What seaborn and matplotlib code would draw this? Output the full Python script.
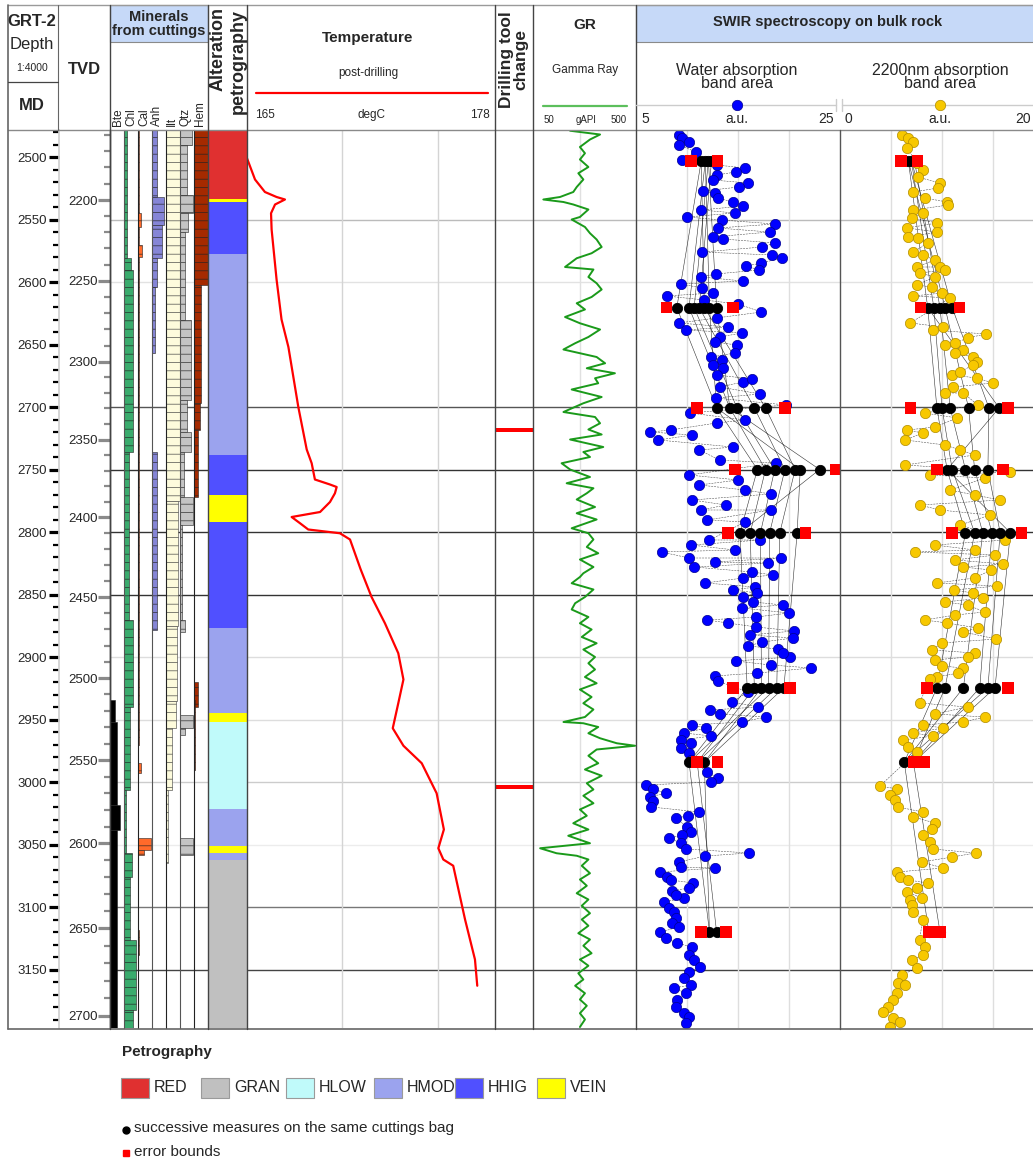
import numpy as np
import pandas as pd
import matplotlib
matplotlib.use("Agg")
import matplotlib.pyplot as plt
import seaborn as sns
from matplotlib.patches import Rectangle
from matplotlib.lines import Line2D
from matplotlib.ticker import MultipleLocator

# ---------------- DATA ----------------
MD_TOP, MD_BOT = 2478.4, 3196.8
MD_MAJOR = list(range(2500, 3151, 50))
TVD_TICKS = list(range(2200, 2701, 50))
# calibration MD <-> TVD read from the two depth tracks
TVD_REF = [1788, 2157, 2200, 2250, 2300, 2350, 2400, 2450, 2500, 2550, 2600, 2650, 2700, 2707, 2925]
MD_REF = [2000, 2478.4, 2534.4, 2599.0, 2663.8, 2726.0, 2788.0, 2852.0, 2916.8, 2982.4, 3049.0, 3117.0, 3187.2, 3196.8, 3500]

PETRO_TOP = [2478.4, 2533.6, 2535.8, 2577.6, 2738.4, 2770.4, 2791.7, 2877.0, 2944.5, 2951.6, 3021.3, 3050.8, 3056.4, 3062.0]
PETRO_CLASS = ["RED", "VEIN", "HHIG", "HMOD", "HHIG", "VEIN", "HHIG", "HMOD", "VEIN", "HLOW", "HMOD", "VEIN", "HMOD", "GRAN"]
PETRO_LEGEND = ["RED", "GRAN", "HLOW", "HMOD", "HHIG", "VEIN"]

MINERAL_NAMES = ["Bte", "Chl", "Cal", "Anh", "Ilt", "Qtz", "Hem"]
# (top MD, bottom MD, relative abundance 0-1)
BTE = [(2934, 2952, 0.35), (2952, 3018, 0.5), (3018, 3038, 0.7), (3038, 3197, 0.5)]
CHL = [(2478, 2581, 0.2), (2581, 2590, 0.5), (2590, 2736, 0.65), (2736, 2870, 0.35), (2870, 2940, 0.65),
       (2940, 3006, 0.45), (3006, 3057, 0.15), (3057, 3076, 0.55), (3076, 3126, 0.45), (3126, 3182, 0.85),
       (3182, 3197, 0.65)]
CAL = [(2478, 2545, 0.08), (2545, 2556, 0.2), (2556, 2570, 0.08), (2570, 2580, 0.25), (2580, 2958, 0.08),
       (2958, 2970, 0.08), (2985, 2993, 0.2), (3044.8, 3054.4, 0.9), (3054.4, 3058.4, 0.45), (3118, 3138, 0.08)]
ANH = [(2478, 2532, 0.35), (2532, 2554, 0.85), (2554, 2581, 0.7), (2581, 2604, 0.35), (2604, 2657, 0.2),
       (2736, 2878, 0.35)]
ILT = [(2478, 2775, 1.0), (2775, 2875, 0.85), (2875, 2935, 0.8), (2935, 2957, 0.7), (2957, 3006, 0.45),
       (3006, 3065, 0.15)]
QTZ = [(2478, 2490, 0.85), (2490, 2530, 0.5), (2530, 2545, 0.9), (2545, 2560, 0.6), (2560, 2630, 0.35),
       (2630, 2694, 0.75), (2694, 2720, 0.5), (2720, 2736, 0.75), (2736, 2772, 0.3), (2772, 2794, 0.9),
       (2794, 2870, 0.15), (2870, 2880, 0.35), (2946, 2957, 0.9), (2957, 2962, 0.35), (3045, 3058, 0.9)]
HEM = [(2478, 2602, 1.0), (2602, 2697, 0.5), (2697, 2718, 0.4), (2718, 2772, 0.25), (2920, 2940, 0.25),
       (2934, 2990, 0.05)]

# post-drilling temperature (MD, degC)
TEMP = [(2490, 164.7), (2501, 165.0), (2518, 165.42), (2528, 165.94), (2532, 166.55), (2534, 166.99),
        (2538, 166.47), (2545, 166.26), (2558, 166.29), (2598, 166.55), (2630, 166.81), (2652, 167.17),
        (2700, 167.69), (2734, 168.13), (2745, 168.39), (2758, 168.56), (2762, 169.35), (2764, 169.70),
        (2769, 169.61), (2776, 169.35), (2784, 168.83), (2788, 167.34), (2793, 167.78), (2798, 168.21),
        (2801, 169.87), (2806, 170.40), (2830, 170.96), (2852, 171.53), (2873, 172.23), (2897, 172.93),
        (2918, 173.20), (2937, 172.93), (2957, 172.64), (2971, 173.20), (2985, 174.16), (3009, 174.94),
        (3038, 175.32), (3053, 175.03), (3062, 175.29), (3067, 175.81), (3110, 176.43), (3142, 176.95),
        (3163, 177.07)]

DRILL_CHANGE_MD = [2718.4, 3003.8]

# gamma ray (MD, gAPI)
GR = [(2479, 212), (2482, 343), (2486, 299), (2492, 255), (2497, 277), (2502, 255), (2508, 292), (2513, 248),
      (2518, 270), (2524, 241), (2528, 226), (2532, 168), (2534, 95), (2536, 183), (2538, 226), (2542, 292),
      (2548, 255), (2550, 219), (2556, 277), (2561, 299), (2566, 328), (2572, 350), (2577, 306), (2581, 241),
      (2588, 190), (2590, 314), (2596, 292), (2601, 328), (2606, 350), (2612, 306), (2617, 241), (2622, 277),
      (2628, 190), (2633, 255), (2638, 343), (2644, 292), (2649, 234), (2654, 183), (2660, 328), (2665, 365),
      (2669, 285), (2673, 408), (2677, 321), (2681, 335), (2686, 219), (2692, 350), (2697, 270), (2704, 183),
      (2708, 321), (2713, 343), (2718, 292), (2722, 350), (2726, 212), (2732, 357), (2736, 270), (2740, 299),
      (2745, 175), (2750, 212), (2756, 299), (2761, 197), (2765, 314), (2769, 285), (2774, 241), (2780, 321),
      (2785, 241), (2790, 328), (2797, 219), (2801, 292), (2806, 314), (2812, 285), (2817, 335), (2822, 255),
      (2828, 314), (2833, 270), (2836, 255), (2841, 219), (2846, 314), (2852, 277), (2857, 234), (2862, 219),
      (2868, 292), (2873, 255), (2878, 306), (2884, 263), (2889, 328), (2894, 270), (2900, 321), (2905, 292),
      (2910, 321), (2916, 277), (2921, 328), (2926, 255), (2932, 306), (2937, 270), (2942, 314), (2948, 277),
      (2952, 183), (2953, 270), (2956, 335), (2961, 292), (2965, 343), (2969, 416), (2971, 496), (2974, 328),
      (2979, 292), (2985, 335), (2990, 277), (2995, 350), (3001, 285), (3006, 314), (3011, 270), (3017, 314),
      (3022, 255), (3027, 285), (3033, 226), (3038, 292), (3043, 204), (3049, 299), (3053, 81), (3057, 153),
      (3059, 241), (3062, 292), (3067, 263), (3073, 299), (3078, 255), (3083, 285), (3089, 241), (3094, 292),
      (3099, 263), (3105, 299), (3110, 263), (3115, 292), (3121, 248), (3126, 299), (3131, 270), (3137, 306),
      (3142, 255), (3147, 292), (3153, 248), (3158, 270), (3163, 234), (3169, 277), (3174, 255), (3179, 285),
      (3185, 255), (3190, 277), (3196, 255)]

# SWIR water absorption band area (MD, a.u.)
WATER = [(2482.4, 9.2), (2484.8, 9.5), (2490.4, 9.2), (2488.0, 10.2), (2496.0, 10.9), (2502.4, 9.5),
         (2506.4, 12.9), (2508.8, 15.7), (2512.0, 14.8), (2514.4, 12.9), (2518.4, 12.5), (2520.8, 16.0),
         (2524.0, 15.1), (2527.2, 11.6), (2528.8, 12.7), (2532.8, 13.0), (2536.0, 14.5), (2539.2, 15.5),
         (2542.4, 11.4), (2544.8, 14.7), (2548.0, 10.0), (2550.4, 13.4), (2556.8, 13.0), (2553.6, 18.6),
         (2560.0, 18.1), (2564.0, 12.5), (2565.6, 13.5), (2568.8, 18.6), (2572.0, 17.4), (2576.0, 11.5),
         (2578.4, 18.3), (2580.8, 19.3), (2584.8, 17.3), (2587.2, 15.8), (2590.4, 17.1), (2593.6, 12.8),
         (2596.0, 11.4), (2599.2, 15.5), (2601.6, 9.4), (2604.8, 11.5), (2608.8, 12.5), (2611.2, 8.0),
         (2614.4, 11.7), (2617.6, 15.0), (2624.0, 17.3), (2628.8, 12.9), (2632.8, 9.2), (2638.4, 9.9),
         (2636.0, 14.0), (2640.8, 15.4), (2644.0, 13.2), (2648.0, 12.7), (2650.4, 14.9), (2656.8, 14.7),
         (2660.0, 12.4), (2662.4, 13.4), (2666.4, 12.5), (2668.8, 13.5), (2674.4, 12.9), (2680.0, 15.5),
         (2677.6, 16.4), (2684.0, 13.2), (2689.6, 17.2), (2692.8, 12.8), (2704.8, 10.3), (2698.4, 19.7),
         (2712.8, 12.9), (2718.4, 8.4), (2710.4, 15.7), (2722.4, 10.5), (2720.0, 6.4), (2726.4, 7.2),
         (2734.4, 11.2), (2732.0, 14.5), (2742.4, 13.2), (2744.8, 18.7), (2754.4, 10.2), (2762.4, 11.2),
         (2758.4, 15.0), (2766.4, 15.7), (2769.6, 18.2), (2774.4, 10.5), (2782.4, 11.4), (2790.4, 12.0),
         (2792.0, 15.7), (2782.4, 18.2), (2778.4, 13.8), (2806.4, 17.2), (2810.4, 10.4), (2816.0, 7.5),
         (2820.8, 10.2), (2814.4, 14.7), (2820.8, 19.2), (2806.4, 12.2), (2828.0, 10.7), (2824.0, 12.7),
         (2824.8, 17.9), (2840.8, 11.8), (2832.0, 16.4), (2836.8, 15.5), (2834.4, 18.4), (2844.0, 16.7),
         (2846.4, 14.5), (2848.8, 16.9), (2852.0, 15.5), (2856.0, 16.5), (2858.4, 19.4), (2860.8, 15.4),
         (2864.8, 20.0), (2868.0, 16.8), (2870.4, 12.0), (2872.8, 14.0), (2876.0, 16.8), (2879.2, 20.5),
         (2884.8, 20.4), (2882.4, 16.2), (2888.0, 17.4), (2891.2, 16.0), (2893.6, 18.9), (2900.0, 20.1),
         (2896.8, 19.4), (2903.2, 14.8), (2906.4, 18.2), (2908.8, 22.2), (2912.8, 16.9), (2915.2, 12.7),
         (2919.2, 13.0), (2928.0, 16.0), (2936.0, 14.4), (2940.0, 17.0), (2942.4, 12.3), (2945.6, 13.2),
         (2948.0, 17.7), (2952.0, 15.4), (2954.4, 10.5), (2956.8, 11.9), (2960.8, 9.7), (2963.2, 12.4),
         (2966.4, 9.4), (2968.8, 10.4), (2972.8, 9.4), (2976.8, 10.2), (2982.4, 10.4), (2992.0, 12.0),
         (2996.8, 13.0), (3000.0, 12.4), (3002.4, 6.0), (3005.6, 6.7), (3008.8, 7.9), (3012.0, 6.4),
         (3015.2, 6.7), (3020.0, 6.5), (3024.0, 11.2), (3028.8, 8.9), (3027.2, 10.1), (3036.0, 10.0),
         (3040.0, 10.4), (3044.8, 8.2), (3042.4, 9.5), (3048.8, 9.4), (3053.6, 9.9), (3059.2, 11.8),
         (3056.8, 16.1), (3064.0, 9.2), (3068.0, 9.4), (3068.8, 12.7), (3072.0, 7.4), (3076.0, 8.0),
         (3078.4, 8.4), (3080.8, 10.6), (3084.8, 10.2), (3087.2, 8.5), (3092.8, 9.7), (3090.4, 8.9),
         (3096.0, 7.7), (3100.8, 8.2), (3104.0, 8.7), (3108.8, 8.9), (3112.8, 8.5), (3116.0, 9.2),
         (3120.0, 7.4), (3124.8, 7.9), (3128.8, 9.0), (3132.0, 10.5), (3138.4, 10.2), (3142.4, 10.7),
         (3148.0, 11.3), (3152.0, 10.2), (3156.8, 9.7), (3164.8, 8.7), (3162.4, 10.4), (3168.8, 9.9),
         (3174.4, 9.0), (3180.0, 8.9), (3184.8, 9.7), (3188.0, 10.2), (3192.8, 9.9)]

# SWIR 2200 nm absorption band area (MD, a.u.)
AL2200 = [(2482.4, 6.1), (2484.8, 6.7), (2488.0, 7.2), (2492.8, 6.6), (2504.8, 7.5), (2510.4, 8.1),
          (2516.0, 7.6), (2520.8, 9.8), (2524.8, 9.6), (2528.0, 7.2), (2532.8, 8.3), (2536.0, 10.5),
          (2538.4, 10.6), (2542.4, 7.2), (2544.8, 8.1), (2548.8, 7.1), (2552.8, 9.5), (2556.8, 6.6),
          (2560.0, 9.5), (2564.8, 7.6), (2564.0, 6.7), (2568.8, 8.6), (2576.0, 7.2), (2578.4, 8.1),
          (2582.4, 9.3), (2588.0, 9.8), (2588.0, 7.5), (2592.8, 7.8), (2590.4, 10.3), (2596.0, 9.3),
          (2602.4, 7.5), (2604.0, 9.0), (2608.8, 10.0), (2611.2, 7.2), (2612.8, 10.8), (2632.8, 6.9),
          (2638.4, 9.1), (2636.0, 10.1), (2641.6, 14.3), (2644.8, 12.5), (2650.4, 10.3), (2648.8, 11.3),
          (2654.4, 12.1), (2656.8, 11.3), (2660.0, 13.0), (2664.0, 13.4), (2666.4, 13.0), (2674.4, 11.0),
          (2672.0, 11.8), (2680.8, 15.0), (2676.8, 13.4), (2684.0, 11.1), (2688.8, 10.3), (2688.8, 12.1),
          (2704.8, 8.3), (2698.4, 13.5), (2708.8, 11.5), (2716.0, 9.3), (2718.4, 6.6), (2726.4, 6.4),
          (2720.8, 8.1), (2730.4, 10.3), (2734.4, 11.8), (2738.4, 13.2), (2746.4, 6.4), (2754.4, 8.8),
          (2756.8, 14.2), (2752.0, 16.7), (2766.4, 10.8), (2770.4, 13.2), (2774.4, 15.7), (2778.4, 7.8),
          (2782.4, 9.8), (2786.4, 14.7), (2794.4, 11.8), (2806.4, 16.2), (2810.4, 9.3), (2814.4, 13.2),
          (2818.4, 15.2), (2816.0, 7.4), (2822.4, 11.3), (2828.0, 12.1), (2830.4, 14.8), (2825.6, 16.0),
          (2840.8, 9.5), (2836.8, 13.2), (2843.2, 15.4), (2846.4, 11.2), (2848.8, 13.0), (2856.0, 10.3),
          (2852.8, 14.0), (2858.4, 12.5), (2870.4, 8.3), (2872.8, 10.5), (2866.4, 11.3), (2864.0, 14.2),
          (2876.8, 13.5), (2880.0, 12.1), (2885.6, 15.3), (2888.8, 10.0), (2894.4, 9.0), (2896.8, 13.2),
          (2900.0, 12.5), (2902.4, 9.3), (2907.2, 10.0), (2908.8, 12.1), (2912.8, 11.6), (2916.0, 9.5),
          (2917.6, 8.8), (2936.8, 7.8), (2940.0, 12.5), (2945.6, 9.3), (2948.0, 14.2), (2952.0, 12.1),
          (2954.4, 8.1), (2956.8, 10.1), (2960.8, 7.2), (2963.2, 9.1), (2966.4, 6.2), (2972.0, 6.7),
          (2976.0, 7.5), (3003.2, 3.9), (3005.6, 5.6), (3010.4, 4.9), (3014.4, 5.4), (3020.0, 5.7),
          (3028.0, 7.2), (3024.0, 8.1), (3032.8, 9.3), (3037.6, 9.0), (3042.4, 8.1), (3048.0, 8.8),
          (3053.6, 9.1), (3060.0, 11.0), (3056.8, 13.3), (3068.8, 10.1), (3064.0, 8.0), (3072.0, 5.6),
          (3076.0, 5.9), (3078.4, 6.7), (3080.8, 8.6), (3084.8, 7.5), (3088.0, 6.6), (3094.4, 6.9),
          (3092.8, 8.0), (3098.4, 7.1), (3104.0, 7.2), (3110.4, 8.1), (3126.4, 7.8), (3132.0, 8.3),
          (3138.4, 8.1), (3142.4, 7.1), (3148.8, 7.5), (3154.4, 6.1), (3160.8, 5.7), (3162.4, 6.4),
          (3168.8, 5.6), (3174.4, 5.2), (3180.0, 4.7), (3184.0, 4.2), (3188.8, 5.2), (3192.0, 5.9),
          (3196.0, 4.9)]

# repeated measures on the same cuttings bag and error bounds
REP_MD = [2503.0, 2620.5, 2700.7, 2750.0, 2800.6, 2924.6, 2984.2, 3119.9]
WATER_REP = [[11.4, 11.8, 12.1, 12.4], [9.0, 10.2, 10.7, 11.2, 11.7, 12.2, 12.9], [12.9, 14.2, 14.9, 16.6, 17.7],
             [16.9, 17.7, 18.6, 19.6, 20.6, 21.1, 23.0], [15.2, 16.2, 17.2, 18.1, 19.1, 20.8],
             [15.9, 16.6, 17.3, 18.0, 18.8, 19.5], [10.2, 11.0, 11.7], [12.2, 12.9]]
WATER_ERR_LO = [10.4, 8.0, 11.0, 14.7, 14.0, 14.5, 11.0, 11.4]
WATER_ERR_HI = [13.0, 14.5, 19.6, 24.6, 21.6, 20.1, 13.0, 13.8]
AL_REP = [[6.7, 7.0, 7.3], [8.6, 9.2, 9.8, 10.3, 11.0], [9.5, 10.0, 10.8, 12.6, 14.6, 15.6],
          [10.5, 11.0, 12.3, 13.2, 14.5], [12.3, 13.2, 14.0, 14.9, 15.7, 16.7],
          [9.5, 10.3, 12.1, 13.7, 14.5, 15.2], [6.3, 7.2], [8.7, 9.8]]
AL_ERR_LO = [6.0, 7.9, 6.9, 9.5, 11.0, 8.5, 7.2, 8.7]
AL_ERR_HI = [7.6, 11.7, 16.5, 16.0, 17.8, 16.5, 8.3, 9.8]

GRID_MD = [2550, 2600, 2700, 2750, 2800, 2850, 2900, 2950, 3000, 3050, 3100, 3150]

# ---------------- STYLE ----------------
sns.set_theme(style="white")
plt.rcParams["font.family"] = ["Liberation Sans", "DejaVu Sans"]
plt.rcParams["hatch.linewidth"] = 0.45

PETRO_COLORS = {"RED": "#e03030", "GRAN": "#c0c0c0", "HLOW": "#c0fafa", "HMOD": "#9ba3ee",
                "HHIG": "#5050ff", "VEIN": "#ffff00"}
MIN_COLORS = {"Bte": "#000000", "Chl": "#3aab6d", "Cal": "#ff6a2a", "Anh": "#8585d6",
              "Ilt": "#fdfbdc", "Qtz": "#c4c4c4", "Hem": "#a52a00"}
GRID_COLORS = ["#bbbbbb", "#e2e2e2", "#555555", "#333333", "#333333", "#333333", "#dddddd",
               "#dddddd", "#cccccc", "#ececec", "#777777", "#444444"]

W, H = 1033, 1162
Y_TOP, Y_BOT = 130, 1028
fig = plt.figure(figsize=(W / 100, H / 100), dpi=100)
fig.patch.set_facecolor("white")


def fx(x):
    return x / W


def fy(y):
    return 1 - y / H


def col_axes(x0, x1, y0=Y_TOP, y1=Y_BOT):
    ax = fig.add_axes([fx(x0), fy(y1), (x1 - x0) / W, (y1 - y0) / H])
    ax.set_ylim(MD_BOT, MD_TOP)
    ax.set_facecolor("none")
    ax.set_xticks([])
    ax.set_yticks([])
    ax.grid(False)
    for s in ax.spines.values():
        s.set_visible(False)
    return ax


def fline(xs, ys, color="#555555", lw=1.0, **kw):
    fig.add_artist(Line2D([fx(v) for v in xs], [fy(v) for v in ys], transform=fig.transFigure,
                          color=color, lw=lw, **kw))


def ftext(x, y, s, **kw):
    kw.setdefault("ha", "center")
    kw.setdefault("va", "center")
    fig.text(fx(x), fy(y), s, **kw)


# background horizontal depth grid
ax_bg = col_axes(110, 1045)
for md, c in zip(GRID_MD, GRID_COLORS):
    ax_bg.axhline(md, color=c, lw=1.0, zorder=0)

# MD depth track
ax_md = col_axes(59, 110)
ax_md.spines["left"].set_visible(True)
ax_md.spines["left"].set_color("#d0d0d0")
ax_md.set_yticks(MD_MAJOR)
ax_md.yaxis.set_minor_locator(MultipleLocator(10))
ax_md.tick_params(axis="y", which="major", left=True, labelleft=True, direction="out", length=7.5,
                  width=2.3, color="black", labelsize=9.5, pad=1)
ax_md.tick_params(axis="y", which="minor", left=True, direction="out", length=4.3, width=1.6, color="black")
ax_md.set_ylim(MD_BOT, MD_TOP)

# TVD track (secondary axis on the minerals frame)
ax_min = col_axes(110, 208)


def md2tvd(m):
    return np.interp(m, MD_REF, TVD_REF)


def tvd2md(t):
    return np.interp(t, TVD_REF, MD_REF)


sec = ax_min.secondary_yaxis("left", functions=(md2tvd, tvd2md))
sec.set_yticks(TVD_TICKS)
sec.yaxis.set_minor_locator(MultipleLocator(10))
sec.tick_params(which="major", left=True, labelleft=True, direction="out", length=8.6, width=2.3,
                color="#8a8a8a", labelsize=9.5, pad=0)
sec.tick_params(which="minor", left=True, direction="out", length=4.3, width=1.6, color="#8a8a8a")
sec.spines["left"].set_color("#444444")
sec.spines["left"].set_linewidth(1.0)

# minerals from cuttings
MINERALS = [BTE, CHL, CAL, ANH, ILT, QTZ, HEM]
for i, (name, data) in enumerate(zip(MINERAL_NAMES, MINERALS)):
    x0 = 110 + 14 * i
    ax = col_axes(x0, x0 + 14)
    ax.set_xlim(0, 1)
    tops = [d[0] for d in data]
    heights = [d[1] - d[0] for d in data]
    vals = [d[2] for d in data]
    edge = "#222222" if name != "Ilt" else "#3a3a3a"
    ax.barh(tops, vals, height=heights, align="edge", color=MIN_COLORS[name], edgecolor=edge,
            linewidth=0.4, hatch="--" if name != "Bte" else None, zorder=2)
    ax.spines["left"].set_visible(True)
    ax.spines["left"].set_color("#555555" if i % 2 else "#222222")
    ax.spines["left"].set_linewidth(0.8)
    ax.set_ylim(MD_BOT, MD_TOP)

# alteration petrography
ax_pet = col_axes(208, 247)
ax_pet.set_xlim(0, 1)
p_bot = PETRO_TOP[1:] + [MD_BOT]
ax_pet.barh(PETRO_TOP, [1] * len(PETRO_TOP), height=[b - t for t, b in zip(PETRO_TOP, p_bot)],
            align="edge", color=[PETRO_COLORS[c] for c in PETRO_CLASS], linewidth=0, zorder=2)
ax_pet.set_ylim(MD_BOT, MD_TOP)

# temperature
ax_t = col_axes(247, 495)
for v in (170, 175):
    ax_t.axvline(v, color="#d4d4d4", lw=1.0, zorder=0)
sns.lineplot(x=[t[1] for t in TEMP], y=[t[0] for t in TEMP], ax=ax_t, orient="y", sort=False,
             estimator=None, color="#ff0000", lw=1.6, legend=False)
ax_t.set_xlim(165, 178)
ax_t.set_ylim(MD_BOT, MD_TOP)
ax_t.set_xlabel("")
ax_t.set_ylabel("")
ax_t.set_xticks([])
ax_t.set_yticks([])

# drilling tool change
ax_d = col_axes(495, 533)
ax_d.set_xlim(0, 1)
ax_d.barh(DRILL_CHANGE_MD, [1] * len(DRILL_CHANGE_MD), height=3.6, align="center", color="#ff0000",
          linewidth=0, zorder=3)
ax_d.set_ylim(MD_BOT, MD_TOP)

# gamma ray
ax_gr = col_axes(533, 636)
ax_gr.axvline(255, color="#e0e0e0", lw=1.0, zorder=0)
sns.lineplot(x=[g[1] for g in GR], y=[g[0] for g in GR], ax=ax_gr, orient="y", sort=False,
             estimator=None, color="#1a9a1a", lw=1.4, legend=False)
ax_gr.set_xlim(50, 500)
ax_gr.set_ylim(MD_BOT, MD_TOP)
ax_gr.set_xlabel("")
ax_gr.set_ylabel("")
ax_gr.set_xticks([])
ax_gr.set_yticks([])


def swir_panel(ax, pts, rep, lo, hi, color, edge, xlim, grid):
    for v in grid:
        ax.axvline(v, color="#dedede", lw=1.0, zorder=0)
    spts = sorted(pts)
    ax.plot([p[1] for p in spts], [p[0] for p in spts], color="black", lw=0.35, ls=(0, (4, 2)),
            alpha=0.75, zorder=1)
    for k in range(len(rep) - 1):
        a, b = rep[k], rep[k + 1]
        for i in range(max(len(a), len(b))):
            ax.plot([a[i % len(a)], b[i % len(b)]], [REP_MD[k], REP_MD[k + 1]], color="black",
                    lw=0.4, alpha=0.8, zorder=1)
    df = pd.DataFrame({"md": [p[0] for p in pts], "v": [p[1] for p in pts]})
    sns.scatterplot(data=df, x="v", y="md", ax=ax, color=color, edgecolor=edge, linewidth=0.5, s=55,
                    zorder=2, legend=False)
    rdf = pd.DataFrame({"md": [m for m, r in zip(REP_MD, rep) for _ in r],
                        "v": [v for r in rep for v in r]})
    sns.scatterplot(data=rdf, x="v", y="md", ax=ax, color="black", edgecolor="black", s=55,
                    zorder=3, legend=False)
    edf = pd.DataFrame({"md": REP_MD + REP_MD, "v": list(lo) + list(hi)})
    sns.scatterplot(data=edf, x="v", y="md", ax=ax, color="#ff0000", marker="s", edgecolor="none",
                    s=70, zorder=4, legend=False)
    ax.set_xlim(*xlim)
    ax.set_ylim(MD_BOT, MD_TOP)
    ax.set_xlabel("")
    ax.set_ylabel("")
    ax.set_xticks([])
    ax.set_yticks([])


ax_w = col_axes(636, 840)
swir_panel(ax_w, WATER, WATER_REP, WATER_ERR_LO, WATER_ERR_HI, "#0000ff", "#000090", (5, 25), (10, 15, 20))
ax_a = col_axes(840, 1044)
swir_panel(ax_a, AL2200, AL_REP, AL_ERR_LO, AL_ERR_HI, "#f7c800", "#b08c00", (0, 20), (5, 10, 15))

# ---------------- FRAME & HEADER ----------------
fig.patches.append(Rectangle((fx(110), fy(42)), 98 / W, 37 / H, transform=fig.transFigure,
                             facecolor="#c6d9f8", edgecolor="#8a8a8a", lw=0.8, zorder=1))
fig.patches.append(Rectangle((fx(636), fy(42)), 400 / W, 37 / H, transform=fig.transFigure,
                             facecolor="#c6d9f8", edgecolor="#8a8a8a", lw=0.8, zorder=1))
fline([8, 1033], [5, 5], color="#9a9a9a", lw=1.0)
fline([8, 1033], [130, 130], color="#8a8a8a", lw=1.0)
fline([8, 1033], [1029, 1029], color="#666666", lw=1.2)
fline([8, 8], [5, 1029], color="#666666", lw=1.2)
fline([57.5, 57.5], [5, 130], color="#666666", lw=0.8)
fline([8, 57.5], [82, 82], color="#444444", lw=0.9)
for x in (110, 208, 247, 495, 533, 636):
    fline([x, x], [5, 1029], color="#444444", lw=1.0)
fline([840, 840], [130, 1029], color="#555555", lw=1.0)

ftext(32, 22, "GRT-2", fontsize=12, fontweight="bold")
ftext(32, 45, "Depth", fontsize=12)
ftext(32, 68, "1:4000", fontsize=7.5)
ftext(32, 106, "MD", fontsize=12, fontweight="bold")
ftext(84, 70, "TVD", fontsize=12, fontweight="bold")
ftext(159, 24, "Minerals\nfrom cuttings", fontsize=10.5, fontweight="bold", linespacing=0.95)
for xpos, name in zip((118, 131, 144, 157, 172, 186, 200), MINERAL_NAMES):
    ftext(xpos, 126, name, fontsize=8.5, rotation=90, va="bottom")
ftext(218, 7, "Alteration", fontsize=13, fontweight="bold", rotation=90, va="top")
ftext(238, 9, "petrography", fontsize=13, fontweight="bold", rotation=90, va="top")
ftext(368, 38, "Temperature", fontsize=11, fontweight="bold")
ftext(368, 73, "post-drilling", fontsize=8.5)
fline([256, 488], [93, 93], color="#ff0000", lw=1.6)
ftext(265, 115, "165", fontsize=8.5)
ftext(371, 115, "degC", fontsize=8.5)
ftext(480, 115, "178", fontsize=8.5)
ftext(514, 60, "Drilling tool\nchange", fontsize=12.5, fontweight="bold", rotation=90, linespacing=0.95)
ftext(585, 25, "GR", fontsize=11, fontweight="bold")
ftext(585, 70, "Gamma Ray", fontsize=8.5)
fline([543, 627], [106, 106], color="#5cbf5c", lw=1.6)
ftext(549, 120, "50", fontsize=7)
ftext(586, 120, "gAPI", fontsize=7)
ftext(619, 120, "500", fontsize=7)
ftext(828, 22, "SWIR spectroscopy on bulk rock", fontsize=10.5, fontweight="bold")
ftext(737, 77, "Water absorption\nband area", fontsize=11.5, linespacing=0.8)
ftext(940, 77, "2200nm absorption\nband area", fontsize=11.5, linespacing=0.8)
fline([636, 836], [105, 105], color="#cccccc", lw=1.0)
fline([836, 836], [99, 111], color="#cccccc", lw=1.0)
fline([842, 1033], [105, 105], color="#cccccc", lw=1.0)
fline([842, 842], [99, 111], color="#cccccc", lw=1.0)
fig.add_artist(Line2D([fx(737)], [fy(105)], transform=fig.transFigure, marker="o", ms=7.5,
                      color="#0000ff", mec="#000090", mew=0.5, ls="none"))
fig.add_artist(Line2D([fx(940)], [fy(105)], transform=fig.transFigure, marker="o", ms=7.5,
                      color="#f7c800", mec="#b08c00", mew=0.5, ls="none"))
ftext(645, 119, "5", fontsize=10)
ftext(737, 119, "a.u.", fontsize=10)
ftext(826, 119, "25", fontsize=10)
ftext(848, 119, "0", fontsize=10)
ftext(940, 119, "a.u.", fontsize=10)
ftext(1031, 119, "20", fontsize=10, ha="right")

# ---------------- LEGEND ----------------
ftext(122, 1052, "Petrography", fontsize=11, fontweight="bold", ha="left")
for xpos, cls in zip((121, 201, 286, 374, 455, 537), PETRO_LEGEND):
    fig.patches.append(Rectangle((fx(xpos), fy(1098)), 28 / W, 20 / H, transform=fig.transFigure,
                                 facecolor=PETRO_COLORS[cls], edgecolor="#9a9a9a", lw=0.8, zorder=2))
    ftext(xpos + 33, 1088, cls, fontsize=11.5, ha="left")
fig.add_artist(Line2D([fx(126)], [fy(1130)], transform=fig.transFigure, marker="o", ms=5,
                      color="black", ls="none"))
ftext(134, 1128, "successive measures on the same cuttings bag", fontsize=11, ha="left")
fig.add_artist(Line2D([fx(126)], [fy(1153)], transform=fig.transFigure, marker="s", ms=5,
                      color="#ff0000", ls="none"))
ftext(134, 1152, "error bounds", fontsize=11, ha="left")

fig.savefig("out.png", dpi=100, facecolor="white")
